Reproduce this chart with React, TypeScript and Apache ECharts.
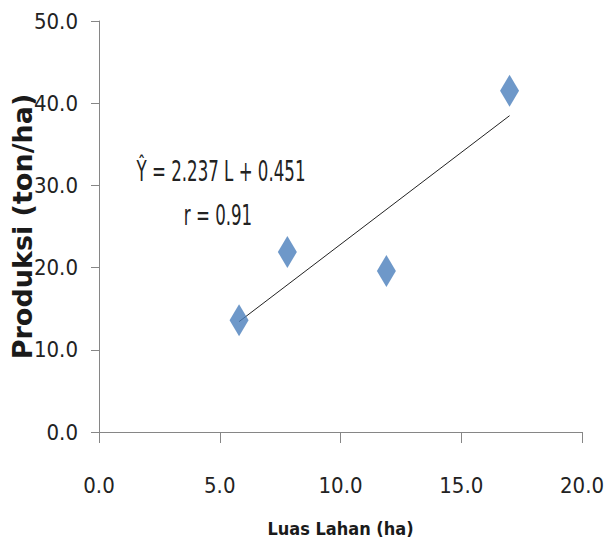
import React, { useEffect, useRef } from "react";
import * as echarts from "echarts";

const luasLahan = [5.8, 7.8, 11.9, 17.0];
const produksi = [13.6, 21.9, 19.6, 41.5];
const slope = 2.237;
const intercept = 0.451;
const trendX = [5.8, 17.0];
const equationText = "Ŷ = 2.237 L + 0.451";
const rText = "r = 0.91";
const xName = "Luas Lahan (ha)";
const yName = "Produksi (ton/ha)";

const NARROW = '"Liberation Sans Narrow", "DejaVu Sans Condensed", "Roboto Condensed", "Liberation Sans", sans-serif';

export default function App() {
  const ref = useRef<HTMLDivElement>(null);
  useEffect(() => {
    if (!ref.current) return;
    const chart = echarts.init(ref.current, undefined, { renderer: "svg" });
    const trend = trendX.map((x) => [x, slope * x + intercept]);
    const axisColor = "#868686";
    chart.setOption({
      animation: false,
      backgroundColor: "#ffffff",
      grid: { left: 99, right: 26, top: 21, bottom: 124, containLabel: false, outerBoundsMode: "none" },
      xAxis: {
        type: "value",
        min: 0,
        max: 20,
        interval: 5,
        name: xName,
        nameLocation: "middle",
        nameGap: 83,
        nameTextStyle: { fontFamily: '"DejaVu Sans Condensed", ' + NARROW, fontSize: 18, fontWeight: "bold", color: "#1a1a1a", lineHeight: 26 },
        axisLine: { show: true, lineStyle: { color: axisColor, width: 1 } },
        axisTick: { show: true, length: 11, lineStyle: { color: axisColor } },
        splitLine: { show: false },
        axisLabel: {
          margin: 42,
          fontFamily: NARROW,
          fontSize: 22,
          color: "#222",
          formatter: (v: number) => v.toFixed(1),
        },
      },
      yAxis: {
        type: "value",
        min: 0,
        max: 50,
        interval: 10,
        name: yName,
        nameLocation: "middle",
        nameGap: 63,
        nameMoveOverlap: false,
        nameRotate: 90,
        nameTextStyle: { fontFamily: '"DejaVu Sans", Verdana, sans-serif', fontSize: 27, fontWeight: "bold", color: "#1a1a1a" },
        axisLine: { show: true, lineStyle: { color: axisColor, width: 1 } },
        axisTick: { show: true, length: 8, lineStyle: { color: axisColor } },
        splitLine: { show: false },
        axisLabel: {
          margin: 21,
          fontFamily: NARROW,
          fontSize: 22,
          color: "#222",
          formatter: (v: number) => v.toFixed(1),
        },
      },
      series: [
        {
          type: "line",
          data: trend,
          symbol: "none",
          lineStyle: { color: "#222", width: 1 },
          z: 3,
        },
        {
          type: "scatter",
          data: luasLahan.map((x, i) => [x, produksi[i]]),
          symbol: "diamond",
          symbolSize: [19, 32],
          itemStyle: { color: "#4A7EBB" },
          z: 4,
        },
      ],
      graphic: [
        {
          type: "text",
          x: 221,
          y: 172,
          scaleY: 1.5,
          style: {
            text: equationText,
            fontFamily: NARROW,
            fontSize: 18.5,
            fill: "#222",
            textAlign: "center",
            textVerticalAlign: "middle",
          },
        },
        {
          type: "text",
          x: 218,
          y: 216,
          scaleY: 1.5,
          style: {
            text: rText,
            fontFamily: NARROW,
            fontSize: 18.5,
            fill: "#222",
            textAlign: "center",
            textVerticalAlign: "middle",
          },
        },
      ],
    });
    return () => chart.dispose();
  }, []);
  return <div ref={ref} style={{ width: 608, height: 556, position: "absolute", left: 0, top: 0 }} />;
}
